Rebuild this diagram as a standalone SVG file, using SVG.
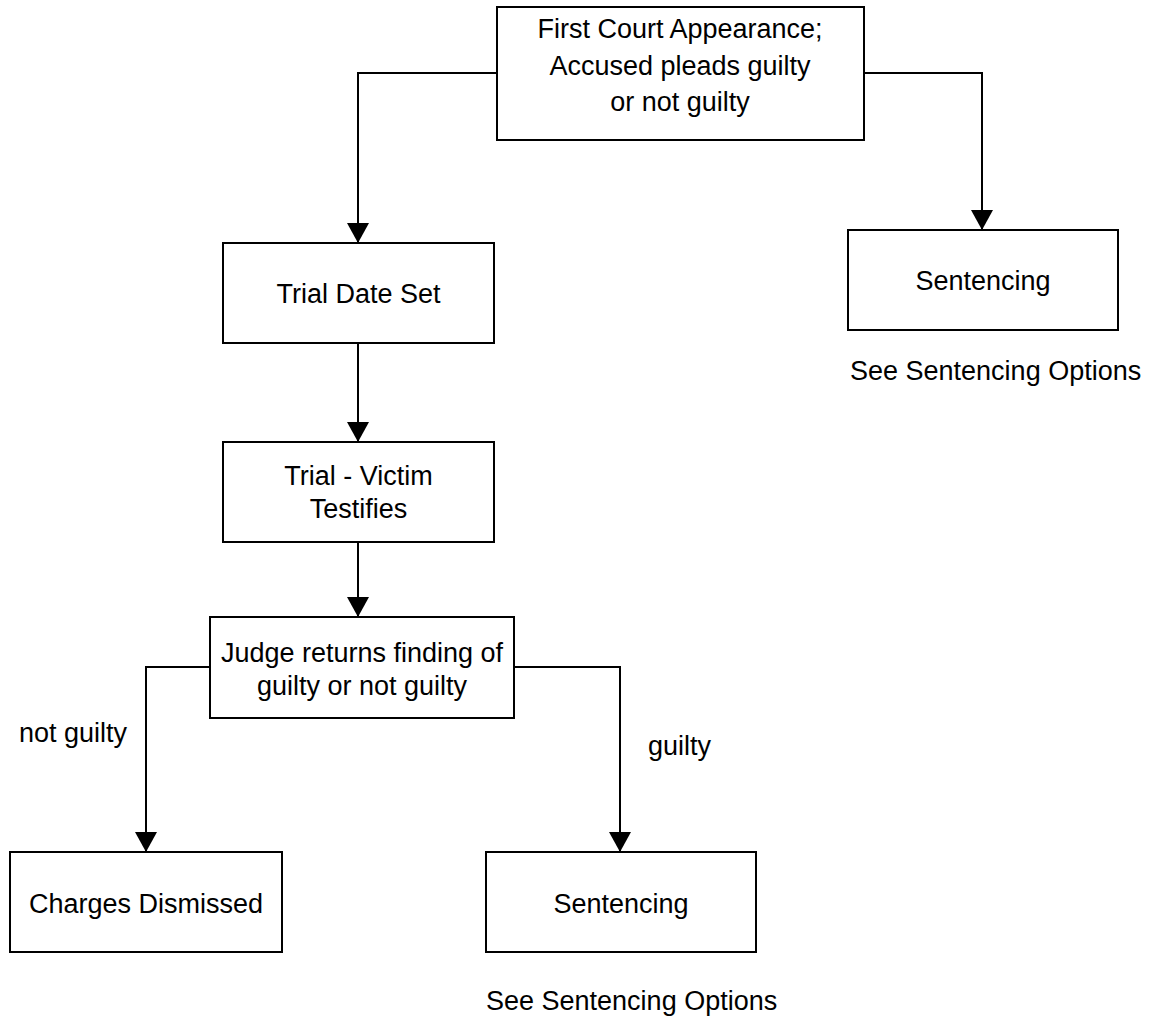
<svg xmlns="http://www.w3.org/2000/svg" width="1154" height="1024" viewBox="0 0 1154 1024">
<style>
  .box { fill: #ffffff; stroke: #000000; stroke-width: 2; }
  .conn { fill: none; stroke: #000000; stroke-width: 2; }
  text { font-family: "Liberation Sans", Arial, sans-serif; font-size: 27px; fill: #000000; }
  .c { text-anchor: middle; }
</style>
<defs>
  <marker id="arrow" markerUnits="userSpaceOnUse" viewBox="0 0 20 22" refX="20" refY="11" markerWidth="20" markerHeight="22" orient="auto">
    <path d="M0,0 L20,11 L0,22 Z" fill="#000000"/>
  </marker>
</defs>
<rect width="1154" height="1024" fill="#ffffff"/>
<g id="connectors">
  <polyline class="conn" points="497,73 358,73 358,243" marker-end="url(#arrow)"/>
  <polyline class="conn" points="864,73 982,73 982,230" marker-end="url(#arrow)"/>
  <line class="conn" x1="358" y1="343" x2="358" y2="442" marker-end="url(#arrow)"/>
  <line class="conn" x1="358" y1="542" x2="358" y2="617" marker-end="url(#arrow)"/>
  <polyline class="conn" points="210,667 146,667 146,852" marker-end="url(#arrow)"/>
  <polyline class="conn" points="514,667 620,667 620,852" marker-end="url(#arrow)"/>
</g>
<g id="first-court">
  <rect class="box" x="497" y="7" width="367" height="133"/>
  <text class="c" x="680" y="38">First Court Appearance;</text>
  <text class="c" x="680" y="75">Accused pleads guilty</text>
  <text class="c" x="680" y="111">or not guilty</text>
</g>
<g id="sentencing-top">
  <rect class="box" x="848" y="230" width="270" height="100"/>
  <text class="c" x="983" y="290">Sentencing</text>
</g>
<text id="see-options-top" x="850" y="380">See Sentencing Options</text>
<g id="trial-date">
  <rect class="box" x="223" y="243" width="271" height="100"/>
  <text class="c" x="358.5" y="303">Trial Date Set</text>
</g>
<g id="trial-victim">
  <rect class="box" x="223" y="442" width="271" height="100"/>
  <text class="c" x="358.5" y="485">Trial - Victim</text>
  <text class="c" x="358.5" y="518">Testifies</text>
</g>
<g id="judge">
  <rect class="box" x="210" y="617" width="304" height="101"/>
  <text class="c" x="362" y="662">Judge returns finding of</text>
  <text class="c" x="362" y="695">guilty or not guilty</text>
</g>
<text id="label-not-guilty" x="19" y="742">not guilty</text>
<text id="label-guilty" x="648" y="755">guilty</text>
<g id="charges-dismissed">
  <rect class="box" x="10" y="852" width="272" height="100"/>
  <text class="c" x="146" y="913">Charges Dismissed</text>
</g>
<g id="sentencing-bottom">
  <rect class="box" x="486" y="852" width="270" height="100"/>
  <text class="c" x="621" y="913">Sentencing</text>
</g>
<text id="see-options-bottom" x="486" y="1010">See Sentencing Options</text>
</svg>
